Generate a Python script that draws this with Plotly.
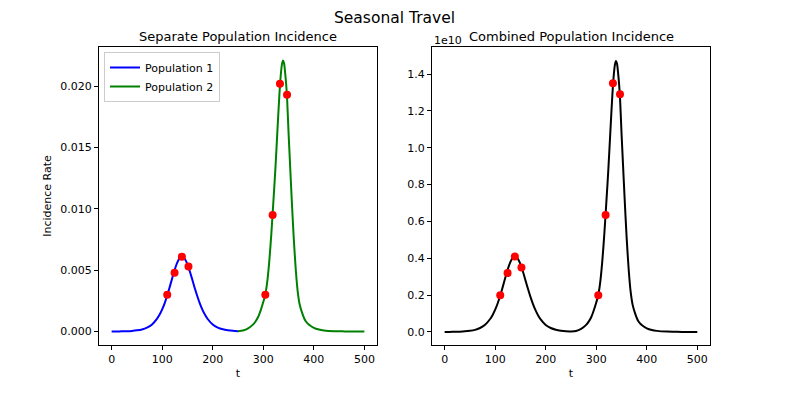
import plotly.graph_objects as go
from plotly.subplots import make_subplots

# population 1 incidence (t 0..250)
t_pop1 = [0, 10, 20, 30, 40, 50, 60, 70, 80, 90, 95, 100, 105, 110, 115, 120, 125, 130,
          135, 139, 143, 147, 150, 155, 160, 165, 170, 175, 180, 185, 190, 200, 210,
          220, 230, 240, 250]
inc_pop1 = [0.000004, 0.000008, 0.000014, 0.000027, 0.00005, 0.000094, 0.00017, 0.00032,
            0.00058, 0.00105, 0.00138, 0.0018, 0.00232, 0.00294, 0.00364, 0.00437,
            0.00507, 0.00564, 0.00601, 0.0061, 0.00601, 0.00576, 0.00547, 0.00486,
            0.00417, 0.00346, 0.00281, 0.00223, 0.00174, 0.00134, 0.00102, 0.00057,
            0.00032, 0.00018, 0.0001, 0.000053, 0.00003]

# population 2 incidence (t 250..500)
t_pop2 = [250, 260, 270, 280, 285, 290, 295, 300, 304, 308, 312, 316, 320, 324, 328, 332,
          335, 337, 339, 341, 343, 345, 347, 350, 353, 356, 360, 364, 368, 372, 377, 383,
          390, 400, 410, 420, 440, 460, 480, 500]
inc_pop2 = [0.00003, 0.00008, 0.00025, 0.00058, 0.00084, 0.0012, 0.00175, 0.0024, 0.003,
            0.0041, 0.0058, 0.008, 0.0106, 0.0133, 0.0164, 0.0194, 0.0211, 0.0218,
            0.0221, 0.0219, 0.0212, 0.0203, 0.0191, 0.0162, 0.0136, 0.011, 0.0078,
            0.0052, 0.0033, 0.0022, 0.0015, 0.0009, 0.00057, 0.0003, 0.00016, 0.00009,
            0.00003, 0.00001, 0.0, 0.0]

# combined incidence, in units of 1e10
t_comb = [0, 10, 20, 30, 40, 50, 60, 70, 80, 90, 95, 100, 105, 110, 115, 120, 125, 130,
          135, 139, 143, 147, 150, 155, 160, 165, 170, 175, 180, 185, 190, 200, 210,
          220, 230, 240, 250, 260, 270, 280, 285, 290, 295, 300, 304, 308, 312, 316,
          320, 324, 328, 332, 335, 337, 339, 341, 343, 345, 347, 350, 353, 356, 360,
          364, 368, 372, 377, 383, 390, 400, 410, 420, 440, 460, 480, 500]
inc_comb = [0.0003, 0.0005, 0.001, 0.0018, 0.0034, 0.0063, 0.0114, 0.0215, 0.039, 0.0706,
            0.0927, 0.121, 0.156, 0.198, 0.245, 0.294, 0.341, 0.379, 0.404, 0.41, 0.404,
            0.387, 0.368, 0.327, 0.28, 0.233, 0.189, 0.15, 0.117, 0.09, 0.0685, 0.038,
            0.0215, 0.012, 0.0067, 0.0036, 0.003, 0.0053, 0.0167, 0.0386, 0.056, 0.08,
            0.1165, 0.16, 0.2, 0.273, 0.386, 0.533, 0.706, 0.886, 1.092, 1.292, 1.405,
            1.452, 1.471, 1.458, 1.412, 1.352, 1.272, 1.079, 0.906, 0.733, 0.519, 0.346,
            0.22, 0.147, 0.1, 0.06, 0.038, 0.02, 0.0107, 0.006, 0.002, 0.0007, 0.0, 0.0]

# observed points
t_obs = [110, 124.5, 139, 152, 304, 318.5, 333, 347]
obs_sep = [0.003, 0.0048, 0.0061, 0.0053, 0.003, 0.0095, 0.0202, 0.0193]
obs_comb = [0.2, 0.32, 0.41, 0.35, 0.2, 0.635, 1.35, 1.29]

FONT = "DejaVu Sans"
# the page body adds an 8px offset, so the figure is drawn 8px smaller
W, H = 781, 387

fig = make_subplots(rows=1, cols=2)

line_shape = dict(width=2, shape="spline", smoothing=0.8)
fig.add_trace(go.Scatter(x=t_pop1, y=inc_pop1, mode="lines", name="Population 1",
                         line=dict(color="blue", **line_shape)), row=1, col=1)
fig.add_trace(go.Scatter(x=t_pop2, y=inc_pop2, mode="lines", name="Population 2",
                         line=dict(color="green", **line_shape)), row=1, col=1)
fig.add_trace(go.Scatter(x=t_obs, y=obs_sep, mode="markers", showlegend=False,
                         marker=dict(color="red", size=8)), row=1, col=1)

fig.add_trace(go.Scatter(x=t_comb, y=inc_comb, mode="lines", showlegend=False,
                         line=dict(color="black", **line_shape)), row=1, col=2)
fig.add_trace(go.Scatter(x=t_obs, y=obs_comb, mode="markers", showlegend=False,
                         marker=dict(color="red", size=8)), row=1, col=2)

axis_style = dict(showline=True, mirror=True, linecolor="black", linewidth=1,
                  ticks="outside", ticklen=4, tickcolor="black", showgrid=False,
                  zeroline=False, tickfont=dict(size=11, color="black"))

fig.update_xaxes(**axis_style, range=[-25, 525], tickvals=[0, 100, 200, 300, 400, 500],
                 title=dict(text="t", font=dict(size=11), standoff=4))
fig.update_xaxes(domain=[0.1165, 0.4725], row=1, col=1)
fig.update_xaxes(domain=[0.5429, 0.8988], row=1, col=2)

fig.update_yaxes(**axis_style)
fig.update_yaxes(domain=[0.1292, 0.8992], range=[-0.0011, 0.0232],
                 tickvals=[0, 0.005, 0.01, 0.015, 0.02], tickformat=".3f",
                 title=dict(text="Incidence Rate", font=dict(size=11), standoff=6),
                 row=1, col=1)
fig.update_yaxes(domain=[0.1292, 0.8992], range=[-0.0707, 1.547],
                 tickvals=[0, 0.2, 0.4, 0.6, 0.8, 1.0, 1.2, 1.4], tickformat=".1f",
                 row=1, col=2)

fig.update_layout(
    width=W, height=H,
    margin=dict(l=0, r=0, t=0, b=0),
    paper_bgcolor="white", plot_bgcolor="white",
    font=dict(family=FONT, color="black"),
    title=dict(text="Seasonal Travel", x=0.4949, xanchor="center", y=0.975,
               yanchor="middle", font=dict(size=15.5)),
    legend=dict(x=0.1229, y=0.8863, xanchor="left", yanchor="top", bgcolor="white",
                bordercolor="#cccccc", borderwidth=1, font=dict(size=11),
                tracegroupgap=0, itemwidth=30),
    annotations=[
        dict(text="Separate Population Incidence", x=0.2941, y=0.9276, xref="paper",
             yref="paper", showarrow=False, font=dict(size=13), xanchor="center",
             yanchor="middle"),
        dict(text="Combined Population Incidence", x=0.7215, y=0.9276, xref="paper",
             yref="paper", showarrow=False, font=dict(size=13), xanchor="center",
             yanchor="middle"),
        dict(text="1e10", x=0.5429, y=0.917, xref="paper", yref="paper",
             showarrow=False, font=dict(size=11), xanchor="left", yanchor="middle"),
    ],
)

fig.write_html("out.html")
